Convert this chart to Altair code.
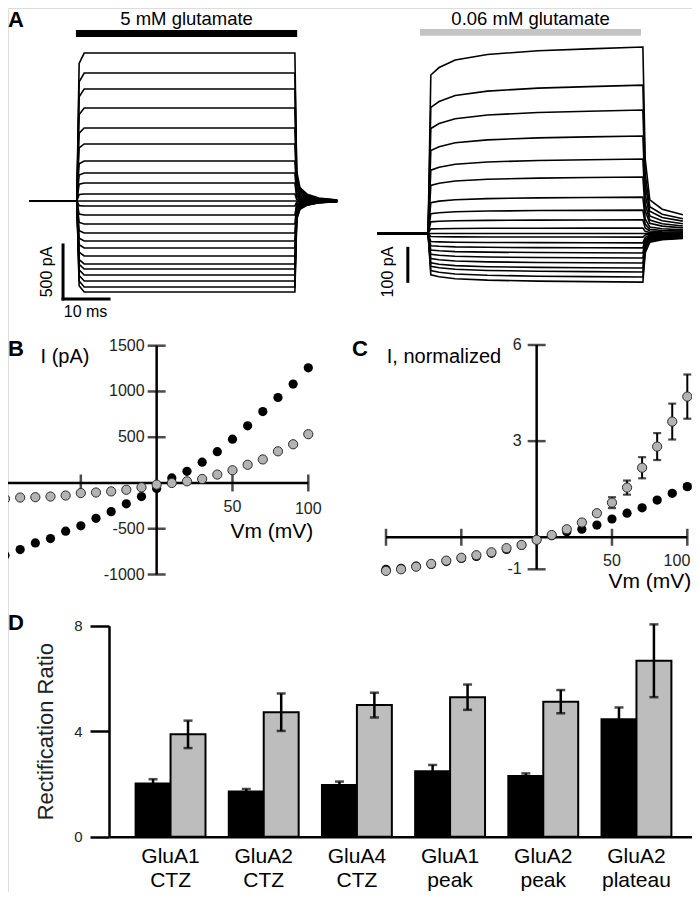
import altair as alt
import pandas as pd

FONT = "Liberation Sans"

# ---------------- Panel A : current traces ----------------
# steady-state current of each trace (pA)
a_left_levels = [1370, 1185, 1037, 861, 676, 528, 370, 259, 167, 65, 0,
                 -46, -130, -213, -296, -370, -435, -509, -583, -630, -685, -741, -796, -843]
a_left_time = [0, 10.4, 10.9, 12.0, 57.8, 58.2, 58.9, 60.5, 63.0, 67.0]          # ms
a_left_shape = [0, 0, 0.93, 1.0, 1.0, 0.2, 0.09, 0.045, 0.02, 0.007]             # fraction of level
a_right_levels = [518, 412, 343, 271, 207, 157, 101, 65, 38, 15, 0,
                  -10, -26, -40, -54, -68, -82, -96, -107, -121, -135]
a_right_time = [0, 11.1, 11.7, 13.5, 17.0, 24.0, 35.0, 46.0, 57.8, 58.3, 59.3, 62.0, 66.5]
a_right_shape = [0, 0, 0.85, 0.89, 0.93, 0.96, 0.98, 0.99, 1.0, 0.4, 0.18, 0.13, 0.1]
a_left_bar_ms = [10.2, 58.3]
a_left_bar_pa = [1519, 1583]
a_right_bar_ms = [9.35, 57.4]
a_right_bar_pa = [549, 568]
a_titles = ["5 mM glutamate", "0.06 mM glutamate"]
a_title_pa = [1630, 579]   # text baseline level above each bar

# ---------------- Panel B : I-V (pA) ----------------
vm = [-100, -90, -80, -70, -60, -50, -40, -30, -20, -10, 0, 10, 20, 30, 40, 50, 60, 70, 80, 90, 100]
b_black = [-791, -728, -655, -607, -527, -468, -386, -313, -228, -148, -60, 55, 128, 227, 342, 478, 625, 780, 934, 1081, 1258]
b_gray = [-173, -159, -155, -148, -137, -110, -104, -92, -74, -48, -18, 0, 18, 44, 92, 139, 199, 257, 346, 423, 533]
b_yticks = [-1000, -500, 500, 1000, 1500]
b_xticks = [-100, -50, 50, 100]

# ---------------- Panel C : normalized I-V ----------------
c_black = [-1.0, -0.97, -0.9, -0.85, -0.76, -0.66, -0.6, -0.5, -0.38, -0.25, -0.08, 0.05, 0.17, 0.25, 0.38, 0.57, 0.75, 0.92, 1.16, 1.37, 1.58]
c_black_err = [0, 0, 0, 0, 0, 0, 0, 0, 0, 0, 0, 0, 0, 0, 0.02, 0.03, 0.04, 0.04, 0.05, 0.05, 0.06]
c_gray = [-1.05, -1.0, -0.92, -0.83, -0.73, -0.64, -0.56, -0.47, -0.34, -0.24, -0.08, 0.07, 0.25, 0.46, 0.75, 1.08, 1.55, 2.17, 2.83, 3.61, 4.39]
c_gray_err = [0, 0, 0, 0, 0, 0, 0, 0, 0, 0, 0, 0, 0, 0.03, 0.06, 0.17, 0.22, 0.33, 0.42, 0.56, 0.69]
c_yticks = [-1, 3, 6]
c_xticks = [-100, -50, 50, 100]

# ---------------- Panel D : rectification ratio ----------------
d_line1 = ["GluA1", "GluA2", "GluA4", "GluA1", "GluA2", "GluA2"]
d_line2 = ["CTZ", "CTZ", "CTZ", "peak", "peak", "plateau"]
d_black = [2.02, 1.71, 1.96, 2.48, 2.30, 4.45]
d_black_err = [0.16, 0.10, 0.13, 0.24, 0.10, 0.45]
d_gray = [3.88, 4.72, 4.99, 5.29, 5.12, 6.67]
d_gray_err = [0.52, 0.71, 0.47, 0.48, 0.44, 1.38]
d_series = ["5 mM", "0.06 mM"]
d_yticks = [0, 4, 8]

W, H = 684, 884


def sc(dom, rng):
    return alt.Scale(domain=dom, range=rng, nice=False, zero=False)


# scale placements (chart pixels)
AL_X, AL_Y = sc([0, 70], [21, 343]), sc([-1000, 1500], [301, 31])
AR_X, AR_Y = sc([0, 70], [369, 691]), sc([-200, 600], [297.5, 9.5])
B_X, B_Y = sc([-100, 100], [-3, 300.3]), sc([-1000, 1500], [566.5, 337.7])
C_X, C_Y = sc([-100, 100], [378, 679.3]), sc([-1, 6], [561.3, 337])
D_Y = sc([0, 8], [828.7, 617.7])
cats = [f"{a}|{b}" for a, b in zip(d_line1, d_line2)]
D_X = alt.Scale(domain=cats, range=[101, 690], paddingInner=0.25, paddingOuter=0.2855)


def X(f, s):
    return alt.X(f, type="quantitative", scale=s, axis=None)


def Y(f, s):
    return alt.Y(f, type="quantitative", scale=s, axis=None)


layers = []

# ---------- Panel A ----------
def traces(levels, times, shape):
    rows = []
    for k, lv in enumerate(levels):
        for j, (t, f) in enumerate(zip(times, shape)):
            rows.append({"trace": k, "j": j, "t": t, "i": lv * f})
    return pd.DataFrame(rows)


for levels, times, shape, XS, YS, bar_ms, bar_pa, bcol, title, tpa in [
    (a_left_levels, a_left_time, a_left_shape, AL_X, AL_Y, a_left_bar_ms, a_left_bar_pa, "black", a_titles[0], a_title_pa[0]),
    (a_right_levels, a_right_time, a_right_shape, AR_X, AR_Y, a_right_bar_ms, a_right_bar_pa, "#c4c4c4", a_titles[1], a_title_pa[1]),
]:
    layers.append(alt.Chart(traces(levels, times, shape)).mark_line(color="black", strokeWidth=1.6).encode(
        x=X("t", XS), y=Y("i", YS), detail="trace:N", order="j:Q"))
    layers.append(alt.Chart(pd.DataFrame({"t0": [bar_ms[0]], "t1": [bar_ms[1]], "i0": [bar_pa[0]], "i1": [bar_pa[1]]}))
                  .mark_rect(color=bcol).encode(x=X("t0", XS), x2="t1", y=Y("i0", YS), y2="i1"))
    layers.append(alt.Chart(pd.DataFrame({"t": [(bar_ms[0] + bar_ms[1]) / 2], "i": [tpa], "s": [title]}))
                  .mark_text(font=FONT, fontSize=18.5, baseline="alphabetic").encode(x=X("t", XS), y=Y("i", YS), text="s:N"))

# scale bars
sb_left = pd.DataFrame({"x": [7.4, 7.4], "x2": [7.4, 17.4], "y": [-907, -907], "y2": [-407, -907]})
layers.append(alt.Chart(sb_left).mark_rule(color="black", strokeWidth=3, strokeCap="square").encode(
    x=X("x", AL_X), x2="x2", y=Y("y", AL_Y), y2="y2"))
sb_right = pd.DataFrame({"x": [6.7], "x2": [6.7], "y": [-137], "y2": [-37]})
layers.append(alt.Chart(sb_right).mark_rule(color="black", strokeWidth=3).encode(
    x=X("x", AR_X), x2="x2", y=Y("y", AR_Y), y2="y2"))
layers.append(alt.Chart(pd.DataFrame({"x": [3.9], "y": [-657], "s": ["500 pA"]})).mark_text(
    font=FONT, fontSize=16, angle=270, baseline="middle").encode(x=X("x", AL_X), y=Y("y", AL_Y), text="s:N"))
layers.append(alt.Chart(pd.DataFrame({"x": [12.3], "y": [-1028], "s": ["10 ms"]})).mark_text(
    font=FONT, fontSize=16, baseline="middle").encode(x=X("x", AL_X), y=Y("y", AL_Y), text="s:N"))
layers.append(alt.Chart(pd.DataFrame({"x": [2.4], "y": [-107], "s": ["100 pA"]})).mark_text(
    font=FONT, fontSize=16, angle=270, baseline="middle").encode(x=X("x", AR_X), y=Y("y", AR_Y), text="s:N"))

# ---------- Panels B and C ----------
def iv_panel(XS, YS, black, gray, yticks, xticks, ylabels_dx, ylab, ylab_pos, vm_pos,
             black_err=None, gray_err=None, label_fs=16, last_right=False):
    out = []
    out.append(alt.Chart(pd.DataFrame({"x": [-100], "x2": [100], "y": [0]})).mark_rule(
        color="black", strokeWidth=2.5).encode(x=X("x", XS), x2="x2", y=Y("y", YS)))
    out.append(alt.Chart(pd.DataFrame({"x": [0], "y": [YS.domain[0]], "y2": [YS.domain[1]]})).mark_rule(
        color="black", strokeWidth=2.5).encode(x=X("x", XS), y=Y("y", YS), y2="y2"))
    out.append(alt.Chart(pd.DataFrame({"x": xticks, "y": [0] * len(xticks)})).mark_tick(
        orient="vertical", size=17, thickness=2.5, color="black").encode(x=X("x", XS), y=Y("y", YS)))
    out.append(alt.Chart(pd.DataFrame({"x": [0] * len(yticks), "y": yticks})).mark_tick(
        orient="horizontal", size=18, thickness=2.5, color="black").encode(x=X("x", XS), y=Y("y", YS)))
    out.append(alt.Chart(pd.DataFrame({"x": [0] * len(yticks), "y": yticks, "s": [str(v) for v in yticks]}))
               .mark_text(font=FONT, fontSize=label_fs, align="right", baseline="middle", dx=ylabels_dx, color="#222")
               .encode(x=X("x", XS), y=Y("y", YS), text="s:N"))
    out.append(alt.Chart(pd.DataFrame({"x": [50], "y": [0], "s": ["50"]}))
               .mark_text(font=FONT, fontSize=label_fs, baseline="middle", dy=24, color="#222")
               .encode(x=X("x", XS), y=Y("y", YS), text="s:N"))
    if last_right:
        m100 = alt.Chart(pd.DataFrame({"x": [100], "y": [0], "s": ["100"]})).mark_text(
            font=FONT, fontSize=label_fs, baseline="middle", align="right", dx=3, dy=24, color="#222")
    else:
        m100 = alt.Chart(pd.DataFrame({"x": [100], "y": [0], "s": ["100"]})).mark_text(
            font=FONT, fontSize=label_fs, baseline="middle", dy=26, color="#222")
    out.append(m100.encode(x=X("x", XS), y=Y("y", YS), text="s:N"))
    out.append(alt.Chart(pd.DataFrame({"x": [vm_pos[0]], "y": [vm_pos[1]], "s": ["Vm (mV)"]}))
               .mark_text(font=FONT, fontSize=21, baseline="middle", dy=2)
               .encode(x=X("x", XS), y=Y("y", YS), text="s:N"))
    out.append(alt.Chart(pd.DataFrame({"x": [ylab_pos[0]], "y": [ylab_pos[1]], "s": [ylab]}))
               .mark_text(font=FONT, fontSize=20, baseline="middle")
               .encode(x=X("x", XS), y=Y("y", YS), text="s:N"))
    for vals, err in [(black, black_err), (gray, gray_err)]:
        if err is None:
            continue
        e = pd.DataFrame({"x": vm, "lo": [v - d for v, d in zip(vals, err)], "hi": [v + d for v, d in zip(vals, err)], "d": err})
        e = e[e["d"] > 0]
        out.append(alt.Chart(e).mark_rule(color="black", strokeWidth=2).encode(x=X("x", XS), y=Y("lo", YS), y2="hi"))
        caps = pd.concat([e[["x", "lo"]].rename(columns={"lo": "y"}), e[["x", "hi"]].rename(columns={"hi": "y"})])
        out.append(alt.Chart(caps).mark_tick(orient="horizontal", size=8, thickness=2.2, color="black").encode(
            x=X("x", XS), y=Y("y", YS)))
    out.append(alt.Chart(pd.DataFrame({"x": vm, "y": black})).mark_circle(size=85, color="black", opacity=1)
               .encode(x=X("x", XS), y=Y("y", YS)))
    out.append(alt.Chart(pd.DataFrame({"x": vm, "y": gray})).mark_circle(
        size=85, color="#b3b3b3", stroke="#2b2b2b", strokeWidth=1, opacity=1)
               .encode(x=X("x", XS), y=Y("y", YS)))
    return out


layers += iv_panel(B_X, B_Y, b_black, b_gray, b_yticks, b_xticks, -12, "I (pA)", (-60.4, 1377), (76, -514))
layers += iv_panel(C_X, C_Y, c_black, c_gray, c_yticks, c_xticks, -15, "I, normalized", (-61.5, 5.63), (75.2, -1.33),
                   black_err=c_black_err, gray_err=c_gray_err, last_right=True)

# ---------- Panel D ----------
d_rows = []
for c, vb, eb, vg, eg in zip(cats, d_black, d_black_err, d_gray, d_gray_err):
    d_rows.append({"cat": c, "series": d_series[0], "v": vb, "lo": vb - eb, "hi": vb + eb})
    d_rows.append({"cat": c, "series": d_series[1], "v": vg, "lo": vg - eg, "hi": vg + eg})
d_df = pd.DataFrame(d_rows)
XO = alt.XOffset("series:N", scale=alt.Scale(domain=d_series))

layers.append(alt.Chart(d_df).mark_bar(stroke="black", strokeWidth=2).encode(
    x=alt.X("cat:N", scale=D_X, sort=cats, axis=alt.Axis(
        orient="bottom", offset=828.7 - H, title=None, ticks=False, domainWidth=2.5, domainColor="black",
        labelFont=FONT, labelFontSize=21, labelColor="black", labelAngle=0, labelPadding=9,
        labelLineHeight=24, labelExpr="split(datum.label, '|')")),
    xOffset=XO,
    y=alt.Y("v:Q", scale=D_Y, axis=alt.Axis(
        orient="left", offset=-101, values=d_yticks, tickSize=19, tickWidth=2.5, tickColor="black",
        domainWidth=2.5, domainColor="black", grid=False, labelFont=FONT, labelFontSize=15,
        labelColor="#222", labelPadding=8, title="Rectification Ratio", titleFont=FONT, titleFontSize=22,
        titleFontWeight="normal", titleColor="#222", titlePadding=16)),
    color=alt.Color("series:N", scale=alt.Scale(domain=d_series, range=["black", "#bdbdbd"]), legend=None)))
layers.append(alt.Chart(d_df).mark_rule(color="black", strokeWidth=2.5).encode(
    x=alt.X("cat:N", scale=D_X, sort=cats, axis=None), xOffset=XO,
    y=alt.Y("lo:Q", scale=D_Y, axis=None), y2="hi:Q"))
d_caps = pd.concat([d_df[["cat", "series", "lo"]].rename(columns={"lo": "y"}),
                    d_df[["cat", "series", "hi"]].rename(columns={"hi": "y"})])
layers.append(alt.Chart(d_caps).mark_tick(orient="horizontal", size=9, thickness=2.5, color="black").encode(
    x=alt.X("cat:N", scale=D_X, sort=cats, axis=None), xOffset=XO,
    y=alt.Y("y:Q", scale=D_Y, axis=None)))

# ---------- panel letters ----------
letters = pd.DataFrame({"s": ["A", "B", "C", "D"], "px": [0, 0, 344, 0], "py": [19, 348, 348, 622]})
for _, r in letters.iterrows():
    layers.append(alt.Chart(pd.DataFrame({"s": [r["s"]]})).mark_text(
        font=FONT, fontSize=22, fontWeight="bold", baseline="alphabetic", align="left").encode(
        x=alt.value(float(r["px"])), y=alt.value(float(r["py"])), text="s:N"))

chart = alt.layer(*layers).resolve_scale(x="independent", y="independent", xOffset="independent").properties(
    width=W, height=H, padding=0, autosize=alt.AutoSizeParams(type="none")
).configure_view(stroke=None).configure(background="white")

chart.save("out.html", embed_options={"renderer": "svg", "actions": False})
